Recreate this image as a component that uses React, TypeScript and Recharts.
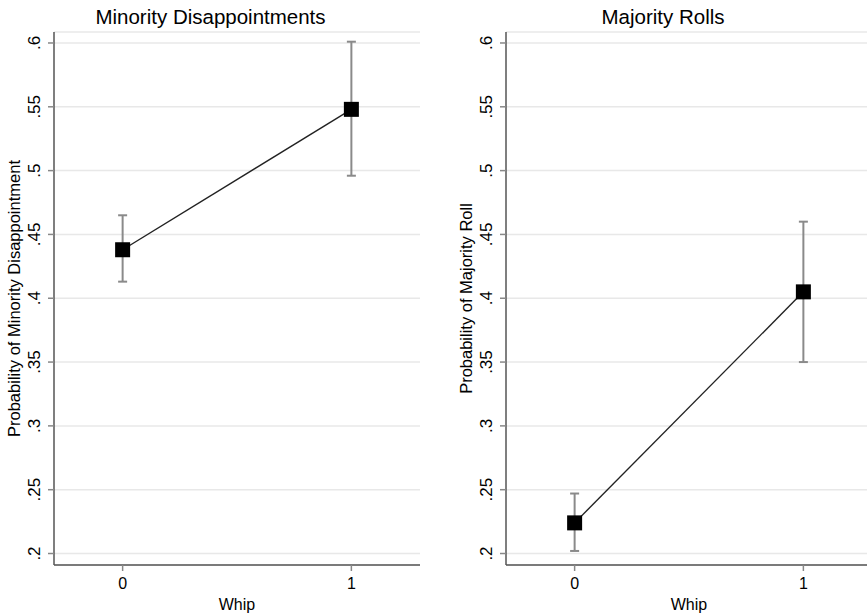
import { LineChart, Line, XAxis, YAxis, CartesianGrid, ErrorBar } from 'recharts'

const whip = [0, 1]
const minorityProb = [0.438, 0.548]
const minorityLow = [0.413, 0.496]
const minorityHigh = [0.465, 0.601]
const majorityProb = [0.224, 0.405]
const majorityLow = [0.202, 0.35]
const majorityHigh = [0.247, 0.46]
const yTicks = [0.2, 0.25, 0.3, 0.35, 0.4, 0.45, 0.5, 0.55, 0.6]
const xTicks = [0, 1]

const FONT = '"Liberation Sans", Arial, Helvetica, sans-serif'

const fmt = (v: number) => String(v).replace(/^0/, '')

function YTick(props: any) {
  const { x, y, payload } = props
  return (
    <text
      transform={`translate(${x - 6}, ${y}) rotate(-90)`}
      textAnchor="middle"
      fontSize={17}
      fill="#000"
      fontFamily={FONT}
    >
      {fmt(payload.value)}
    </text>
  )
}

function SquareDot(props: any) {
  const { cx, cy, index } = props
  if (cx == null || cy == null) return <g key={index} />
  return <rect key={index} x={cx - 7.5} y={cy - 7.5} width={15} height={15} fill="#000" />
}

type PanelProps = {
  left: number
  title: string
  titleX: number
  yLabel: string
  prob: number[]
  low: number[]
  high: number[]
}

function Panel({ left, title, titleX, yLabel, prob, low, high }: PanelProps) {
  const data = whip.map((x, i) => ({
    x,
    p: prob[i],
    err: [prob[i] - low[i], high[i] - prob[i]],
  }))
  return (
    <>
      <div
        style={{
          position: 'absolute',
          left: titleX - 200,
          top: 6,
          width: 400,
          textAlign: 'center',
          fontSize: 20.5,
          lineHeight: '21px',
          fontFamily: FONT,
          color: '#000',
        }}
      >
        {title}
      </div>
      <div style={{ position: 'absolute', left, top: 0 }}>
        <LineChart
          width={431}
          height={615}
          data={data}
          margin={{ top: 32, right: 11, bottom: 0, left: 0 }}
        >
          <CartesianGrid vertical={false} stroke="#e8e8e8" strokeWidth={1.5} />
          <XAxis
            type="number"
            dataKey="x"
            domain={[-0.3, 1.3]}
            ticks={xTicks}
            allowDataOverflow
            height={50}
            tickSize={6}
            tickMargin={7}
            axisLine={{ stroke: '#555', strokeWidth: 1.5 }}
            tickLine={{ stroke: '#888', strokeWidth: 1.5 }}
            tick={{ fontSize: 16, fill: '#000', fontFamily: FONT }}
            label={{ value: 'Whip', position: 'insideBottom', offset: 5, fontSize: 16, fill: '#000', fontFamily: FONT }}
          />
          <YAxis
            type="number"
            domain={[0.191, 0.6086]}
            ticks={yTicks}
            allowDataOverflow
            width={54}
            tickSize={6}
            tickMargin={2}
            axisLine={{ stroke: '#555', strokeWidth: 1.5 }}
            tickLine={{ stroke: '#888', strokeWidth: 1.5 }}
            tick={<YTick />}
            label={(p: any) => {
              const vb = p.viewBox || {}
              return (
                <text
                  transform={`translate(${(vb.x ?? 0) + 20}, ${(vb.y ?? 32) + (vb.height ?? 533) / 2}) rotate(-90)`}
                  textAnchor="middle"
                  fontSize={16.5}
                  fill="#000"
                  fontFamily={FONT}
                >
                  {yLabel}
                </text>
              )
            }}
          />
          <Line
            type="linear"
            dataKey="p"
            stroke="#222"
            strokeWidth={1.4}
            dot={<SquareDot />}
            activeDot={false}
            isAnimationActive={false}
          >
            <ErrorBar dataKey="err" direction="y" width={4.5} stroke="#8a8a8a" strokeWidth={2} />
          </Line>
        </LineChart>
      </div>
    </>
  )
}

export default function App() {
  return (
    <div
      style={{
        position: 'absolute',
        left: 0,
        top: 0,
        width: 867,
        height: 615,
        overflow: 'hidden',
        background: '#fff',
        fontFamily: FONT,
      }}
    >
      <Panel
        left={0}
        title="Minority Disappointments"
        titleX={210.5}
        yLabel="Probability of Minority Disappointment"
        prob={minorityProb}
        low={minorityLow}
        high={minorityHigh}
      />
      <Panel
        left={452}
        title="Majority Rolls"
        titleX={663}
        yLabel="Probability of Majority Roll"
        prob={majorityProb}
        low={majorityLow}
        high={majorityHigh}
      />
    </div>
  )
}
